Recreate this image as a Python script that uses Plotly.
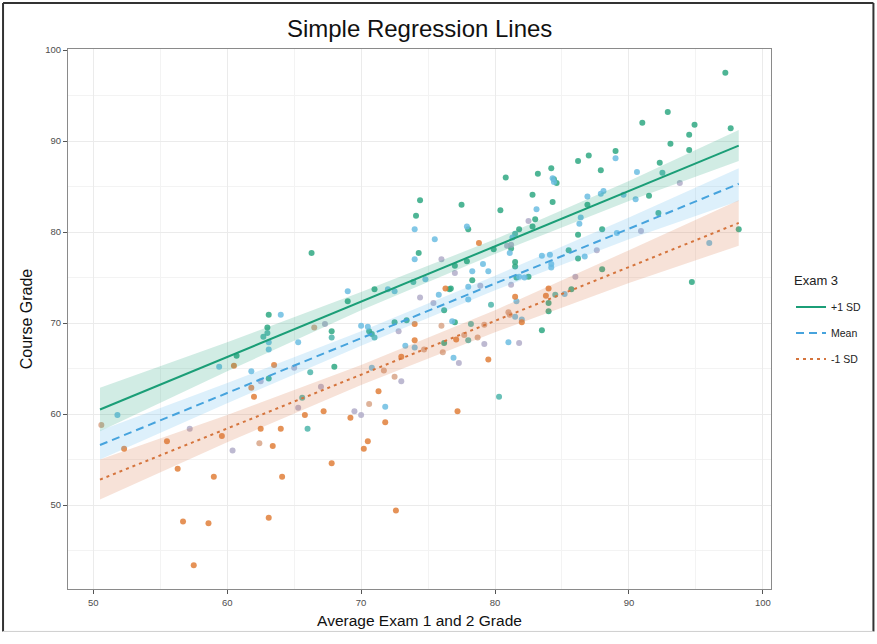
import plotly.graph_objects as go

# ---------------- data ----------------
# points coloured by Exam 3 level (colour groups of the continuous scale)
green_x = [97.2, 92.9, 91.0, 94.9, 94.5, 97.6, 93.1, 94.5, 89.0, 87.0, 86.2, 87.9, 84.2, 83.2, 80.8, 92.3, 82.8, 84.3, 80.4, 77.5,
           74.4, 74.1, 78.0, 83.0, 82.8, 86.9, 91.5, 86.2, 88.0, 92.2, 98.2, 94.7, 81.8, 81.2, 79.9, 77.9, 74.3, 77.0, 78.3, 81.5,
           81.5, 85.5, 86.2, 88.0, 81.6, 82.5, 76.6, 76.7, 85.7, 84.0, 84.0, 76.2, 83.5, 77.0, 73.4, 72.5, 70.6, 70.8, 69.0, 71.0,
           66.3, 63.1, 63.0, 67.8, 68.0, 63.1, 60.7, 76.2, 84.4, 84.6]
green_y = [97.5, 93.2, 92.0, 91.8, 90.7, 91.4, 89.7, 89.0, 88.9, 88.4, 87.8, 86.8, 87.0, 86.4, 86.0, 87.6, 84.1, 83.3, 82.4, 83.0,
           83.5, 81.8, 80.3, 81.4, 80.6, 83.0, 84.0, 79.7, 80.3, 82.1, 80.3, 74.5, 80.3, 78.2, 78.1, 76.8, 77.7, 76.3, 74.7, 76.7,
           76.2, 78.0, 77.1, 75.9, 75.0, 75.1, 73.7, 73.8, 73.7, 72.2, 71.3, 71.4, 69.2, 70.1, 70.3, 70.1, 69.1, 68.8, 72.4, 73.7,
           77.7, 70.9, 69.5, 69.1, 65.2, 63.9, 66.4, 67.8, 85.8, 85.4]

teal_x = [92.5, 73.9, 84.5, 79.7, 78.0, 66.2, 65.6, 66.0, 80.3, 63.0, 62.7, 67.8, 71.0, 81.5, 78.2]
teal_y = [86.5, 74.5, 73.1, 72.0, 68.1, 64.6, 61.8, 58.4, 61.9, 68.9, 68.5, 68.4, 68.4, 79.8, 69.9]

blue_x = [89.0, 84.3, 84.4, 90.6, 74.0, 75.5, 77.9, 83.1, 86.9, 87.9, 88.1, 89.6, 90.5, 86.4, 86.3, 89.1, 96.0, 81.3, 81.1, 74.0,
          79.1, 79.5, 78.3, 83.5, 84.1, 84.2, 84.2, 86.7, 81.8, 82.2, 78.0, 75.8, 78.0, 85.2, 81.6, 81.5, 82.0, 76.8, 81.0, 73.3,
          74.0, 76.9, 69.0, 72.0, 72.5, 74.8, 64.0, 63.1, 63.1, 61.8, 65.3, 70.0, 70.5, 70.8, 71.8, 59.4, 51.8]
blue_y = [88.1, 85.9, 85.5, 86.6, 80.3, 79.2, 80.6, 82.5, 83.9, 84.2, 84.5, 84.1, 83.6, 81.6, 80.9, 79.9, 78.8, 79.4, 77.7, 77.0,
          76.5, 75.7, 75.7, 77.4, 77.5, 76.5, 76.1, 77.3, 75.1, 75.0, 74.0, 73.1, 72.6, 73.2, 72.4, 70.7, 70.4, 70.2, 67.9, 67.5,
          67.3, 66.2, 73.5, 73.7, 73.5, 74.8, 70.9, 67.9, 67.1, 64.7, 67.9, 69.7, 69.6, 65.1, 60.8, 65.2, 59.9]

lav_x = [93.8, 82.5, 90.9, 87.6, 76.0, 77.0, 81.2, 81.2, 86.0, 78.9, 74.4, 75.4, 80.9, 79.2, 81.8, 77.3, 73.0, 72.8, 67.3, 65.0,
         67.0, 65.3, 62.5, 69.5, 70.0, 60.4, 57.2]
lav_y = [85.4, 81.2, 80.1, 78.0, 77.0, 75.5, 78.6, 74.2, 75.1, 74.1, 72.8, 72.2, 78.5, 67.7, 67.8, 65.6, 63.6, 69.1, 69.9, 65.1,
         63.0, 60.7, 63.6, 60.3, 59.9, 56.0, 58.4]

tan_x = [66.5, 71.7, 72.5, 70.6, 76.0, 77.7, 78.7, 79.2, 74.7, 76.1, 81.0, 81.1, 62.4, 50.6]
tan_y = [69.5, 64.8, 64.1, 61.1, 69.7, 68.7, 68.4, 69.8, 67.1, 66.8, 71.2, 70.9, 56.8, 58.8]

orange_x = [78.8, 84.0, 83.8, 81.5, 76.3, 74.0, 74.0, 73.0, 77.1, 82.0, 79.5, 77.2, 71.3, 71.8, 69.2, 70.5, 70.2, 72.6, 67.8, 67.2,
            65.8, 63.5, 64.0, 62.5, 63.4, 64.1, 63.1, 61.8, 62.0, 60.5, 59.6, 59.0, 58.6, 56.7, 57.5, 56.3, 55.5, 52.3]
orange_y = [78.8, 73.8, 73.0, 72.9, 73.8, 69.9, 68.1, 66.3, 68.2, 70.1, 66.0, 60.3, 62.5, 59.1, 59.6, 57.0, 56.2, 49.4, 54.6, 60.3,
            59.9, 65.4, 58.4, 58.4, 56.5, 53.1, 48.6, 62.9, 61.9, 65.3, 57.6, 53.1, 48.0, 48.2, 43.4, 54.0, 57.0, 56.2]

# regression lines (endpoints) and confidence ribbons
line_x = [50.5, 98.2]
plus_y = [60.5, 89.5]
mean_y = [56.6, 85.3]
minus_y = [52.8, 81.0]

band_x = [50.5, 60, 70, 80, 90, 98.2]
plus_hi = [62.9, 67.9, 73.4, 79.2, 85.6, 91.2]
plus_lo = [58.1, 64.7, 71.4, 77.6, 83.4, 87.8]
mean_hi = [58.2, 63.4, 69.1, 75.2, 81.6, 87.0]
mean_lo = [55.0, 61.2, 67.5, 73.6, 79.2, 83.4]
minus_hi = [55.0, 59.9, 65.4, 71.4, 78.0, 83.5]
minus_lo = [50.6, 56.9, 63.2, 69.0, 74.4, 78.5]

series_names = ["+1 SD", "Mean", "-1 SD"]
legend_title = "Exam 3"

FONT = "Liberation Sans, Arial, sans-serif"

fig = go.Figure()

# points
for xs, ys, col in [(green_x, green_y, "#2fa882"), (teal_x, teal_y, "#4db5aa"), (blue_x, blue_y, "#6cbde2"),
                    (lav_x, lav_y, "#b2adc9"), (tan_x, tan_y, "#d8a487"), (orange_x, orange_y, "#e07f3a")]:
    fig.add_trace(go.Scatter(x=xs, y=ys, mode="markers", showlegend=False, hoverinfo="skip",
                             marker=dict(size=6, color=col, opacity=0.85, line=dict(width=0))))

# ribbons
for hi, lo, fillc in [(plus_hi, plus_lo, "rgba(27,158,119,0.20)"),
                      (mean_hi, mean_lo, "rgba(86,180,233,0.20)"),
                      (minus_hi, minus_lo, "rgba(217,112,60,0.20)")]:
    fig.add_trace(go.Scatter(x=band_x, y=hi, mode="lines", line=dict(width=0), showlegend=False, hoverinfo="skip"))
    fig.add_trace(go.Scatter(x=band_x, y=lo, mode="lines", line=dict(width=0), fill="tonexty",
                             fillcolor=fillc, showlegend=False, hoverinfo="skip"))

# regression lines
for name, ys, col, dash in [(series_names[0], plus_y, "#1b9e77", "solid"),
                            (series_names[1], mean_y, "#46a3dd", "8px,5px"),
                            (series_names[2], minus_y, "#d5743c", "3px,4px")]:
    fig.add_trace(go.Scatter(x=line_x, y=ys, mode="lines", name=name, legendgroup=name,
                             line=dict(color=col, width=2, dash=dash)))

axis_common = dict(showline=True, mirror=True, linecolor="#8a8a8a", linewidth=1.2,
                   ticks="outside", ticklen=4, tickcolor="#555", tickwidth=1,
                   tickfont=dict(family=FONT, size=9.5, color="#4d4d4d"),
                   showgrid=True, gridcolor="#ebebeb", gridwidth=1, zeroline=False)

fig.update_layout(
    width=877, height=644,
    margin=dict(l=68, r=105, t=49, b=55),
    paper_bgcolor="white", plot_bgcolor="white",
    font=dict(family=FONT),
    title=dict(text="Simple Regression Lines", x=0.4785, xanchor="center", y=0.955, yanchor="middle",
               font=dict(family=FONT, size=24, color="#111")),
    xaxis=dict(range=[48.11, 100.61], tickvals=[50, 60, 70, 80, 90, 100],
               minor=dict(tickvals=[55, 65, 75, 85, 95], showgrid=True, gridcolor="#f3f3f3", ticks=""),
               title=dict(text="Average Exam 1 and 2 Grade", font=dict(family=FONT, size=15.5, color="#111"), standoff=8),
               **axis_common),
    yaxis=dict(range=[40.78, 100.11], tickvals=[50, 60, 70, 80, 90, 100],
               minor=dict(tickvals=[45, 55, 65, 75, 85, 95], showgrid=True, gridcolor="#f3f3f3", ticks=""),
               title=dict(text="Course Grade", font=dict(family=FONT, size=16, color="#111"), standoff=8),
               **axis_common),
    legend=dict(x=1.027, y=0.549, xanchor="left", yanchor="top",
                font=dict(family=FONT, size=10.5, color="#222"), tracegroupgap=7, itemwidth=30,
                bgcolor="rgba(0,0,0,0)"),
    annotations=[dict(text=legend_title, xref="paper", yref="paper", x=1.0295, y=0.571,
                      xanchor="left", yanchor="middle", showarrow=False,
                      font=dict(family=FONT, size=13, color="#222"))],
    shapes=[
        dict(type="line", xref="paper", yref="paper", x0=-0.0924, x1=1.1457, y0=1.0851, y1=1.0851,
             line=dict(color="#333", width=2)),
        dict(type="line", xref="paper", yref="paper", x0=-0.0924, x1=-0.0924, y0=-0.0786, y1=1.0851,
             line=dict(color="#333", width=2)),
        dict(type="line", xref="paper", yref="paper", x0=1.1457, x1=1.1457, y0=-0.0786, y1=1.0851,
             line=dict(color="#333", width=2)),
        dict(type="line", xref="paper", yref="paper", x0=-0.0924, x1=1.1457, y0=-0.0786, y1=-0.0786,
             line=dict(color="#cfcfcf", width=1)),
    ],
)

fig.write_html("out.html", config={"displayModeBar": False},
               post_script="document.body.style.margin='0';")
